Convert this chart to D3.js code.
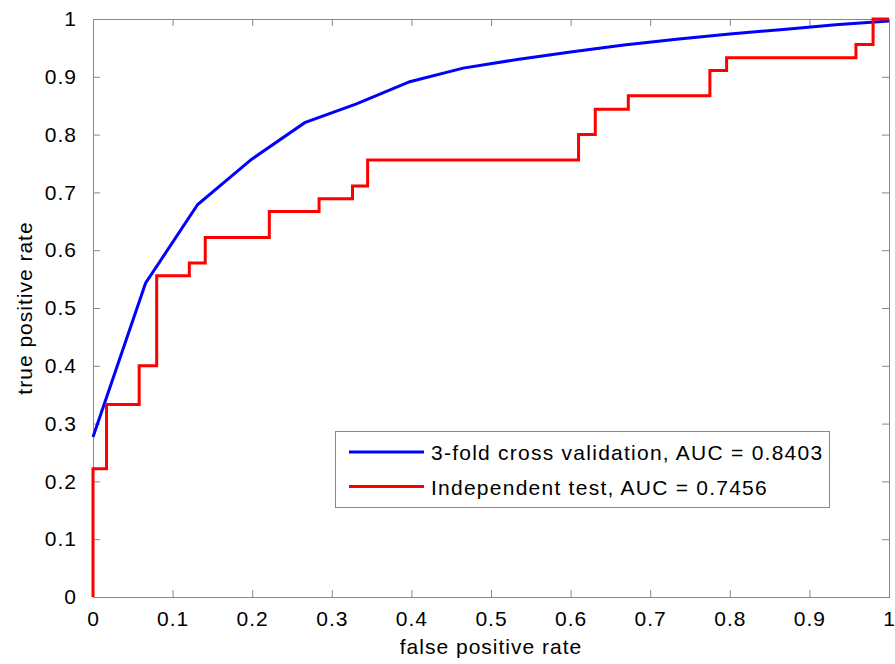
<!DOCTYPE html>
<html>
<head>
<meta charset="utf-8">
<script src="https://cdn.jsdelivr.net/npm/d3@7"></script>
<style>
  body { margin: 0; background: #fff; }
  svg text { font-family: "Liberation Sans", Arial, sans-serif; fill: #000; letter-spacing: 1px; }
</style>
</head>
<body>
<div id="chart"></div>
<script>
// values
let cv_fpr = [0, 0.066, 0.1315, 0.199, 0.266, 0.331, 0.398, 0.465, 0.533, 0.6, 0.667, 0.733, 0.8, 0.867, 0.933, 1];
let cv_tpr = [0.277, 0.543, 0.679, 0.757, 0.8206, 0.853, 0.8915, 0.915, 0.93, 0.943, 0.955, 0.965, 0.974, 0.982, 0.99, 0.9965];

// independent test: fpr where each step up happens, tpr after the step
let test_fpr = [0, 0.017, 0.058, 0.08, 0.121, 0.141, 0.2215, 0.284, 0.326, 0.345, 0.61, 0.631, 0.6725, 0.775, 0.796, 0.9585, 0.98];
let test_tpr = [0.222, 0.333, 0.4, 0.556, 0.578, 0.622, 0.667, 0.689, 0.711, 0.756, 0.8, 0.844, 0.867, 0.911, 0.933, 0.956, 1];

let ticks = [0, 0.1, 0.2, 0.3, 0.4, 0.5, 0.6, 0.7, 0.8, 0.9, 1];
let legend_labels = ["3-fold cross validation, AUC = 0.8403", "Independent test, AUC = 0.7456"];
let colors = ["#0000ff", "#ff0000"];

let width = 895, height = 664;
let margin = {top: 19, right: 6, bottom: 67, left: 93};

let svg = d3.select("#chart")
	.append("svg")
	.attr("width", width)
	.attr("height", height);

let x = d3.scaleLinear()
	.domain([0, 1])
	.range([margin.left, width - margin.right]);

let y = d3.scaleLinear()
	.domain([0, 1])
	.range([height - margin.bottom, margin.top]);

let tickLen = 7;
let fmt = d => d3.format("~g")(d);

// box + inward ticks on all sides
function axisStyle(g) {
	g.selectAll(".domain").remove();
	g.selectAll(".tick line").attr("stroke", "#888");
	g.selectAll("text").attr("font-size", 21).attr("fill", "#000");
}

svg.append("g")
	.attr("transform", "translate(0," + y(0) + ")")
	.call(d3.axisBottom(x).tickValues(ticks).tickFormat(fmt).tickSizeInner(-tickLen).tickSizeOuter(0).tickPadding(14))
	.call(axisStyle);

svg.append("g")
	.attr("transform", "translate(0," + y(1) + ")")
	.call(d3.axisTop(x).tickValues(ticks).tickFormat("").tickSizeInner(-tickLen).tickSizeOuter(0))
	.call(axisStyle);

svg.append("g")
	.attr("transform", "translate(" + x(0) + ",0)")
	.call(d3.axisLeft(y).tickValues(ticks).tickFormat(fmt).tickSizeInner(-tickLen).tickSizeOuter(0).tickPadding(16))
	.call(axisStyle);

svg.append("g")
	.attr("transform", "translate(" + x(1) + ",0)")
	.call(d3.axisRight(y).tickValues(ticks).tickFormat("").tickSizeInner(-tickLen).tickSizeOuter(0))
	.call(axisStyle);

svg.append("rect")
	.attr("x", x(0) + 0.5)
	.attr("y", y(1) + 0.5)
	.attr("width", x(1) - x(0))
	.attr("height", y(0) - y(1))
	.attr("fill", "none")
	.attr("stroke", "#888")
	.attr("stroke-width", 1);

// curves
let cvData = cv_fpr.map((f, i) => [f, cv_tpr[i]]);
let testData = [[0, 0]].concat(test_fpr.map((f, i) => [f, test_tpr[i]]), [[1, 1]]);

let line = d3.line().x(d => x(d[0])).y(d => y(d[1]));
let stepLine = d3.line().x(d => x(d[0])).y(d => y(d[1])).curve(d3.curveStepAfter);

svg.append("path")
	.attr("d", line(cvData))
	.attr("fill", "none")
	.attr("stroke", colors[0])
	.attr("stroke-width", 3);

svg.append("path")
	.attr("d", stepLine(testData))
	.attr("fill", "none")
	.attr("stroke", colors[1])
	.attr("stroke-width", 3);

// axis titles
svg.append("text")
	.attr("x", (x(0) + x(1)) / 2)
	.attr("y", 654)
	.attr("text-anchor", "middle")
	.attr("font-size", 21)
	.text("false positive rate");

svg.append("text")
	.attr("transform", "translate(32," + (y(0) + y(1)) / 2 + ") rotate(-90)")
	.attr("text-anchor", "middle")
	.attr("font-size", 21)
	.text("true positive rate");

// legend
let lg = svg.append("g");
lg.append("rect")
	.attr("x", 335.5)
	.attr("y", 431.5)
	.attr("width", 494)
	.attr("height", 76)
	.attr("fill", "#fff")
	.attr("stroke", "#888");

legend_labels.forEach((lab, i) => {
	let ly = 452 + i * 34.5;
	lg.append("line")
		.attr("x1", 349).attr("x2", 424)
		.attr("y1", ly).attr("y2", ly)
		.attr("stroke", colors[i])
		.attr("stroke-width", 3);
	lg.append("text")
		.attr("x", 431)
		.attr("y", ly + 8)
		.attr("font-size", 21)
		.style("letter-spacing", "1.25px")
		.text(lab);
});
</script>
</body>
</html>
